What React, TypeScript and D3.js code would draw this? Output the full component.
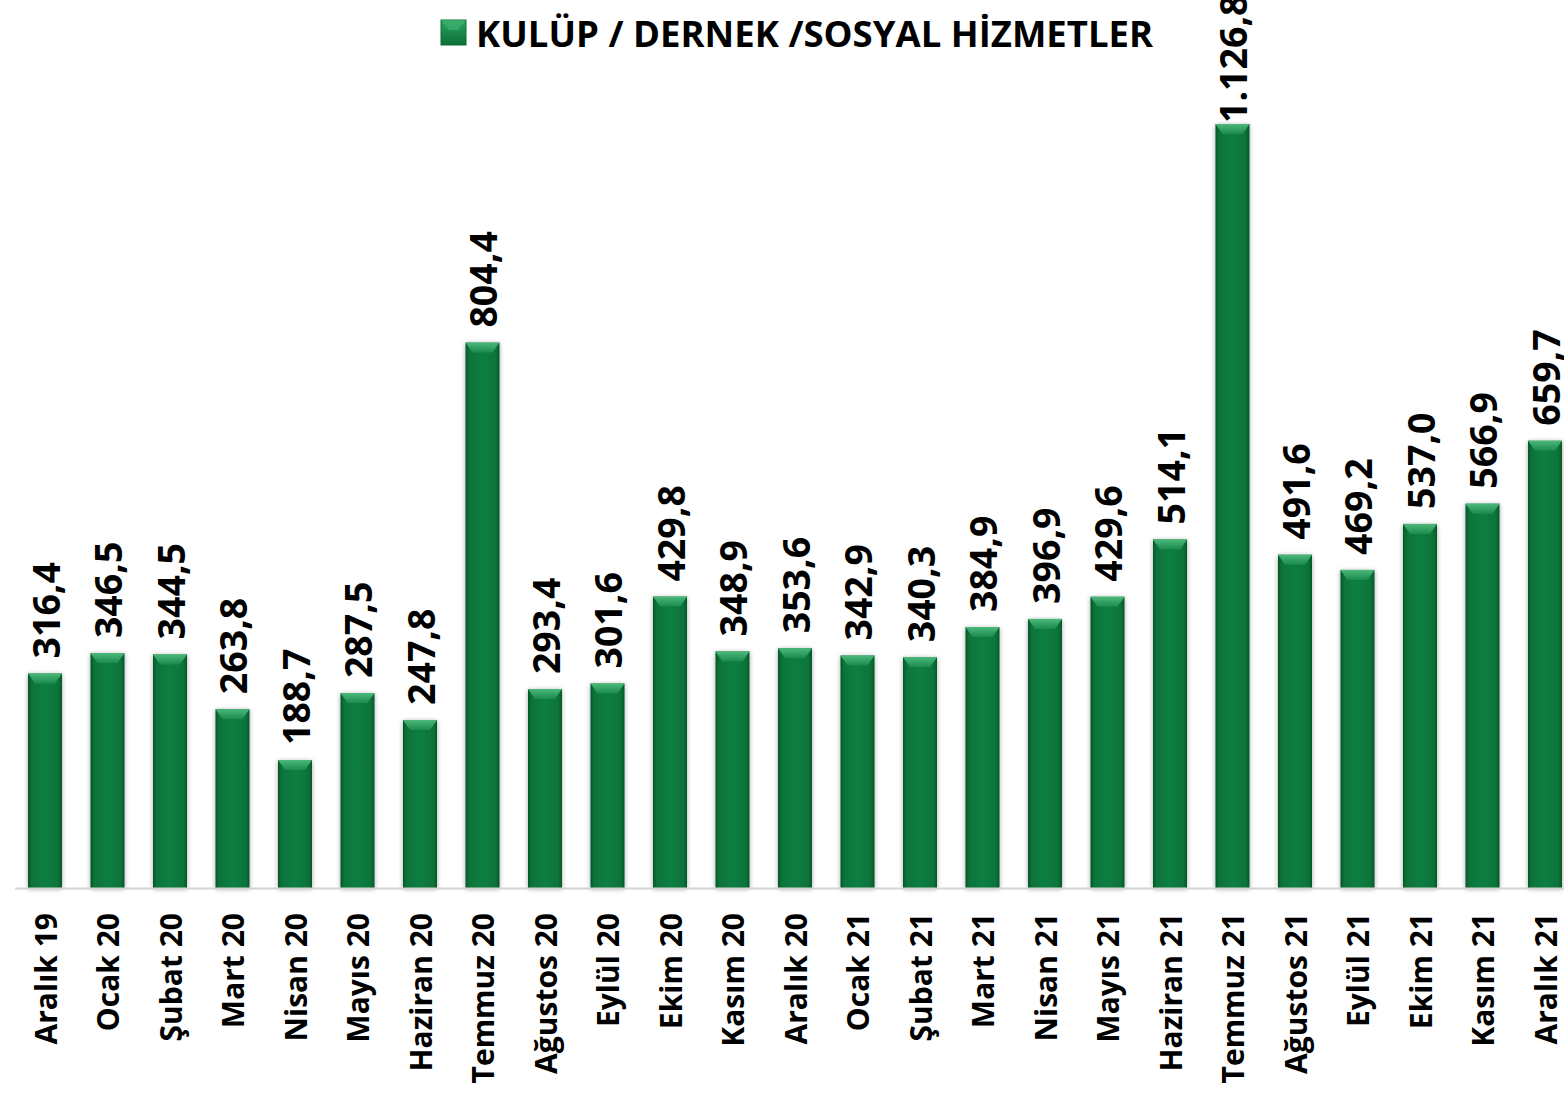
import React from "react";
import * as d3 from "d3";

const categories = [
  "Aralık 19", "Ocak 20", "Şubat 20", "Mart 20", "Nisan 20", "Mayıs 20", "Haziran 20",
  "Temmuz 20", "Ağustos 20", "Eylül 20", "Ekim 20", "Kasım 20", "Aralık 20",
  "Ocak 21", "Şubat 21", "Mart 21", "Nisan 21", "Mayıs 21", "Haziran 21",
  "Temmuz 21", "Ağustos 21", "Eylül 21", "Ekim 21", "Kasım 21", "Aralık 21",
];
const values = [
  316.4, 346.5, 344.5, 263.8, 188.7, 287.5, 247.8, 804.4, 293.4, 301.6, 429.8, 348.9,
  353.6, 342.9, 340.3, 384.9, 396.9, 429.6, 514.1, 1126.8, 491.6, 469.2, 537.0, 566.9, 659.7,
];
const seriesName = "KULÜP / DERNEK /SOSYAL HİZMETLER";

const W = 1564;
const H = 1109;
const FONT = "'Open Sans', 'DejaVu Sans', sans-serif";

const fmt = (v: number) => {
  const s = v.toFixed(1);
  const [i, d] = s.split(".");
  const ii = i.replace(/\B(?=(\d{3})+(?!\d))/g, ".");
  return ii + "," + d;
};

export default function App() {
  const x = d3
    .scaleBand<string>()
    .domain(categories)
    .range([13.75, 13.75 + 62.5 * categories.length])
    .paddingInner(0.456)
    .paddingOuter(0.228);
  const y = d3.scaleLinear().domain([0, 1200]).range([888, 74.4]);
  const bw = x.bandwidth();

  return (
    <svg
      width={W}
      height={H}
      style={{ position: "absolute", left: 0, top: 0, background: "#fff" }}
      fontFamily={FONT}
    >
      <defs>
        <linearGradient id="barG" x1="0" x2="1" y1="0" y2="0">
          <stop offset="0%" stopColor="#05582a" />
          <stop offset="12%" stopColor="#0a7439" />
          <stop offset="50%" stopColor="#0c7e42" />
          <stop offset="88%" stopColor="#0a7439" />
          <stop offset="100%" stopColor="#05582a" />
        </linearGradient>
        <linearGradient id="bevelG" x1="0" x2="0" y1="0" y2="1">
          <stop offset="0%" stopColor="#4cb87a" />
          <stop offset="100%" stopColor="#1a8b4d" />
        </linearGradient>
        <linearGradient id="legG" x1="0" x2="0" y1="0" y2="1">
          <stop offset="0%" stopColor="#2ea35f" />
          <stop offset="100%" stopColor="#0a6f38" />
        </linearGradient>
        <filter id="shadow" x="-30%" y="-5%" width="160%" height="110%">
          <feGaussianBlur in="SourceAlpha" stdDeviation="2.5" />
          <feOffset dx="0" dy="1" result="b" />
          <feComponentTransfer>
            <feFuncA type="linear" slope="0.35" />
          </feComponentTransfer>
          <feMerge>
            <feMergeNode />
            <feMergeNode in="SourceGraphic" />
          </feMerge>
        </filter>
      </defs>

      {/* legend */}
      <g>
        <rect x={441} y={20} width={25} height={25} fill="url(#legG)" stroke="#0a6a35" strokeWidth={1} />
        <polygon points={`441,20 466,20 458,30 449,30`} fill="#3fb070" opacity={0.7} />
        <text x={476} y={33} dominantBaseline="central" fontSize={36.5} fontWeight={700} fill="#000">
          {seriesName}
        </text>
      </g>

      {/* bars */}
      <g filter="url(#shadow)">
        {categories.map((c, i) => {
          const x0 = x(c)!;
          const top = y(values[i]);
          const h = y(0) - top;
          return (
            <g key={c}>
              <rect x={x0} y={top} width={bw} height={h} fill="url(#barG)" />
              <polygon
                points={`${x0},${top} ${x0 + bw},${top} ${x0 + bw - 7},${top + 10} ${x0 + 7},${top + 10}`}
                fill="url(#bevelG)"
              />
            </g>
          );
        })}
      </g>

      {/* axis line */}
      <line x1={15} x2={W} y1={888.5} y2={888.5} stroke="#d4d4d4" strokeWidth={2} />

      {/* value labels */}
      {categories.map((c, i) => {
        const cx = x(c)! + bw / 2;
        const top = y(values[i]);
        const ty = top < 150 ? top - 1 : top - 15;
        return (
          <text
            key={"v" + c}
            transform={`translate(${cx},${ty}) rotate(-90)`}
            dominantBaseline="central"
            textAnchor="start"
            fontSize={37.5}
            fontWeight={700}
            fill="#000"
          >
            {fmt(values[i])}
          </text>
        );
      })}

      {/* category labels */}
      {categories.map((c) => {
        const cx = x(c)! + bw / 2;
        return (
          <text
            key={"c" + c}
            transform={`translate(${cx},913) rotate(-90)`}
            dominantBaseline="central"
            textAnchor="end"
            fontSize={30}
            fontWeight={700}
            fill="#000"
          >
            {c}
          </text>
        );
      })}
    </svg>
  );
}
